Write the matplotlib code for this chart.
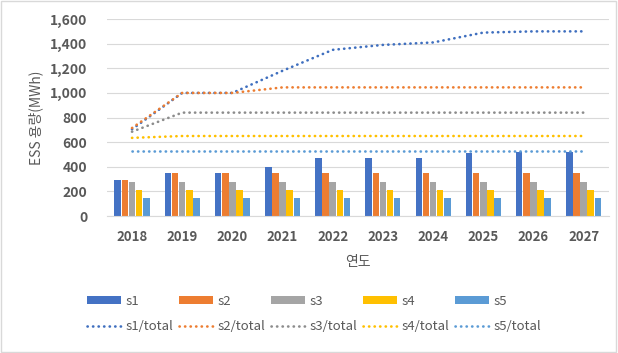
import matplotlib
matplotlib.use("Agg")
import matplotlib.pyplot as plt
import numpy as np
from matplotlib.patches import Rectangle

plt.rcParams['font.family'] = ['Noto Sans CJK KR', 'DejaVu Sans']

years = ['2018', '2019', '2020', '2021', '2022', '2023', '2024', '2025', '2026', '2027']
s1 = [290, 350, 350, 400, 470, 470, 470, 510, 520, 520]
s2 = [290, 350, 350, 350, 350, 350, 350, 350, 350, 350]
s3 = [275, 275, 275, 275, 275, 275, 275, 275, 275, 275]
s4 = [210, 210, 210, 210, 210, 210, 210, 210, 210, 210]
s5 = [150, 150, 150, 150, 150, 150, 150, 150, 150, 150]
s1_total = [705, 1000, 1000, 1180, 1350, 1390, 1410, 1490, 1500, 1500]
s2_total = [715, 1000, 1000, 1045, 1045, 1045, 1045, 1045, 1045, 1045]
s3_total = [685, 840, 840, 840, 840, 840, 840, 840, 840, 840]
s4_total = [635, 650, 650, 650, 650, 650, 650, 650, 650, 650]
s5_total = [530, 530, 530, 530, 530, 530, 530, 530, 530, 530]

bar_series = [('s1', s1, '#4472C4'), ('s2', s2, '#ED7D31'), ('s3', s3, '#A5A5A5'),
              ('s4', s4, '#FFC000'), ('s5', s5, '#5B9BD5')]
line_series = [('s1/total', s1_total, '#3F6FBF'), ('s2/total', s2_total, '#ED7D31'),
               ('s3/total', s3_total, '#8C8C8C'), ('s4/total', s4_total, '#FFC000'),
               ('s5/total', s5_total, '#5B9BD5')]

txt = '#595959'
fig = plt.figure(figsize=(6.18, 3.53), dpi=100)
ax = fig.add_axes([0.173, 0.388, 0.812, 0.558])

x = np.arange(len(years))
bw = 0.142
bar_h = []
for i, (name, vals, col) in enumerate(bar_series):
    h = ax.bar(x + (i - 2) * bw, vals, width=bw * 0.92, color=col, label=name, zorder=2)
    bar_h.append(h)
line_h = []
for name, vals, col in line_series:
    l, = ax.plot(x, vals, color=col, lw=1.9, linestyle=(0, (0.1, 2.0)),
                 dash_capstyle='round', label=name, zorder=3)
    line_h.append(l)

ax.set_xlim(-0.5, len(years) - 0.5)
ax.set_ylim(0, 1600)
ax.set_yticks(np.arange(0, 1601, 200))
ax.set_yticklabels([f'{v:,}' for v in range(0, 1601, 200)])
ax.set_xticks(x)
ax.set_xticklabels(years)
ax.grid(axis='y', color='#D9D9D9', lw=0.8, zorder=0)
ax.set_axisbelow(True)
for s in ['top', 'right', 'left']:
    ax.spines[s].set_visible(False)
ax.spines['bottom'].set_color('#D9D9D9')
ax.tick_params(axis='both', length=0, colors=txt, labelsize=9.5)
ax.tick_params(axis='y', pad=14, labelsize=10)
ax.tick_params(axis='x', pad=10)
for lab in ax.get_xticklabels() + ax.get_yticklabels():
    lab.set_fontweight('bold')

ax.set_ylabel('ESS 용량(MWh)', color=txt, fontsize=10, labelpad=5)
ax.set_xlabel('연도', color=txt, fontsize=10, labelpad=8)

handles = []
labels = []
for b, l in zip(bar_h, line_h):
    handles += [b, l]
    labels += [b.get_label(), l.get_label()]
fig.legend(handles, labels, ncol=5, loc='center', bbox_to_anchor=(0.508, 0.111),
           frameon=False, fontsize=9.5, labelcolor=txt, handlelength=2.6,
           handleheight=0.5, handletextpad=0.3, columnspacing=0.45, labelspacing=0.95)

fig.patches.append(Rectangle((0.002, 0.003), 0.995, 0.994, transform=fig.transFigure,
                             fill=False, edgecolor='#D9D9D9', lw=1))
fig.savefig('out.png', dpi=100)
